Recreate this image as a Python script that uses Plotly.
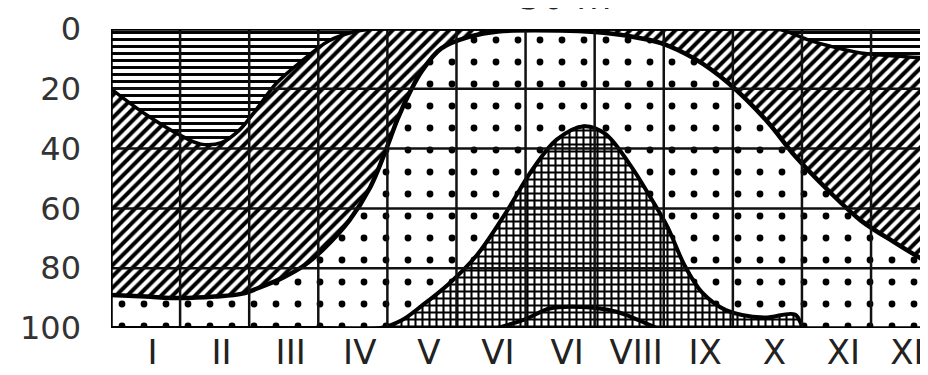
import plotly.graph_objects as go

# ---- data (month position along x, value 0-100 downward) ----
month_labels = ["I", "II", "III", "IV", "V", "VI", "VI", "VIII", "IX", "X", "XI", "XI"]
y_ticks = [0, 20, 40, 60, 80, 100]
title_text = "50 m"

# lower edge of the horizontally striped layer
b1_x = [0, 0.5, 1.0, 1.3, 1.6, 1.85, 2.1, 2.4, 2.8, 3.15, 3.5, 3.8, 5, 7, 9, 9.65, 10.1, 10.4, 10.85, 11.35, 12]
b1_y = [20, 28.5, 35.5, 38.5, 38, 34, 27, 18, 10, 4, 1, 0, 0, 0, 0, 0, 3.7, 5.7, 8, 9, 10]

# lower edge of the diagonally hatched layer
b2_x = [0, 0.5, 1.0, 1.5, 1.9, 2.2, 2.5, 2.8, 3.1, 3.45, 3.75, 3.97, 4.15, 4.34, 4.5, 4.78, 5.2, 5.6,
        6.5, 7.0, 7.48, 7.96, 8.45, 8.93, 9.5, 9.9, 10.38, 10.85, 11.35, 11.82, 12]
b2_y = [89, 89.5, 90, 89.5, 88.5, 86, 83, 79, 73, 64, 53, 41, 30, 20.5, 14, 6.5, 2.5, 0.8,
        0.5, 1, 2.3, 4.7, 10, 18, 31, 42.5, 54, 64, 71.5, 78, 80]

# lower edge of the dotted layer (top of the cross-hatched layer)
b3_x = [0, 3.0, 3.9, 4.2, 4.5, 4.9, 5.3, 5.7, 6.1, 6.45, 6.85, 7.15, 7.5, 7.8, 8.05, 8.3, 8.55,
        8.9, 9.45, 9.9, 10.05, 12]
b3_y = [100, 100, 100, 97.5, 92.5, 85, 75.5, 62, 47, 37, 32.5, 35, 45, 56, 66, 79, 88,
        94, 96.5, 95.5, 100, 100]

# bottom curve inside the cross-hatched layer
b4_x = [5.6, 6.0, 6.35, 6.8, 7.3, 7.65, 7.9]
b4_y = [100, 97, 93.5, 93, 94.5, 97.5, 100]

edge_x = [0, 12]
top_y = [0, 0]
bottom_y = [100, 100]

fig = go.Figure()

def pat(shape, size, solidity):
    return dict(shape=shape, fgcolor="black", bgcolor="white", size=size,
                solidity=solidity, fgopacity=1)

fig.add_trace(go.Scatter(x=edge_x, y=top_y, mode="lines", line=dict(width=0), hoverinfo="skip"))
fig.add_trace(go.Scatter(x=b1_x, y=b1_y, mode="lines", line=dict(width=0, shape="spline"),
                         fill="tonexty", fillcolor="white", fillpattern=pat("-", 7, 0.42)))
fig.add_trace(go.Scatter(x=b2_x, y=b2_y, mode="lines", line=dict(width=0, shape="spline"),
                         fill="tonexty", fillcolor="white", fillpattern=pat("/", 8, 0.5)))
fig.add_trace(go.Scatter(x=b3_x, y=b3_y, mode="lines", line=dict(width=0, shape="spline"),
                         fill="tonexty", fillcolor="white", fillpattern=pat(".", 22, 0.075)))
fig.add_trace(go.Scatter(x=edge_x, y=bottom_y, mode="lines", line=dict(width=0),
                         fill="tonexty", fillcolor="white", fillpattern=pat("+", 7, 0.5)))

# boundary lines on top
for bx, by, w in [(b1_x, b1_y, 3.5), (b2_x, b2_y, 4.5), (b3_x, b3_y, 4), (b4_x, b4_y, 4)]:
    fig.add_trace(go.Scatter(x=bx, y=by, mode="lines",
                             line=dict(color="black", width=w, shape="spline")))

shapes = []
for m in range(1, 12):
    shapes.append(dict(type="line", xref="x", yref="y", x0=m, x1=m, y0=0, y1=100,
                       line=dict(color="#111", width=2.5), layer="above"))
for v in y_ticks[1:-1]:
    shapes.append(dict(type="line", xref="x", yref="y", x0=0, x1=12, y0=v, y1=v,
                       line=dict(color="#111", width=2.5), layer="above"))
# frame: left, top, bottom (right side is cut off)
shapes.append(dict(type="line", xref="x", yref="y", x0=0, x1=0, y0=0, y1=100,
                   line=dict(color="black", width=3.5), layer="above"))
shapes.append(dict(type="line", xref="x", yref="y", x0=0, x1=12, y0=0, y1=0,
                   line=dict(color="black", width=3.5), layer="above"))
shapes.append(dict(type="line", xref="x", yref="y", x0=0, x1=12, y0=100, y1=100,
                   line=dict(color="black", width=3.5), layer="above"))

fig.update_layout(
    width=928, height=375,
    margin=dict(l=103, r=0, t=21, b=55),
    paper_bgcolor="white", plot_bgcolor="white",
    showlegend=False,
    shapes=shapes,
    xaxis=dict(range=[0, 11.94], showgrid=False, zeroline=False, showline=False,
               tickmode="array", tickvals=[i + 0.6 for i in range(11)] + [11.52],
               ticktext=month_labels,
               ticks="", ticklabelstandoff=1,
               tickfont=dict(family="DejaVu Sans", size=34, color="#222")),
    yaxis=dict(range=[100, 0], showgrid=False, zeroline=False, showline=False,
               tickmode="array", tickvals=y_ticks, ticktext=[str(v) for v in y_ticks],
               ticks="", ticklabelstandoff=29,
               tickfont=dict(family="DejaVu Sans", size=32, color="#333")),
    annotations=[dict(text=title_text, xref="paper", yref="paper", x=0.55, y=1.0 + 10 / 299,
                      xanchor="center", yanchor="bottom", showarrow=False,
                      font=dict(family="DejaVu Sans", size=36, color="#222"))],
)

fig.write_html("out.html")
